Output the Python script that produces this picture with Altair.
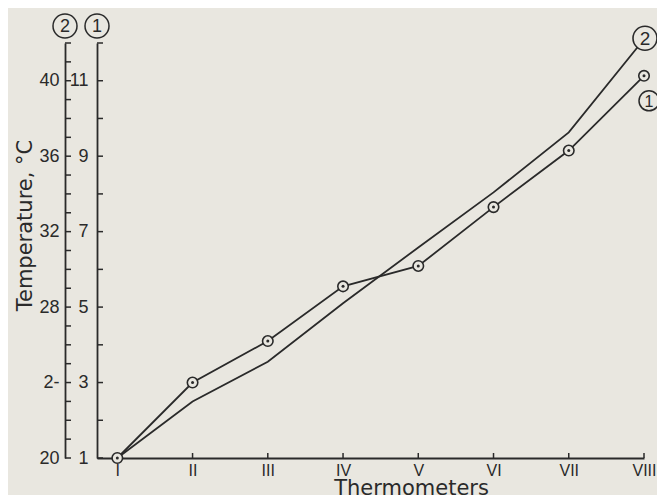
import altair as alt
import pandas as pd

# ---- data ----
thermometers = ["I", "II", "III", "IV", "V", "VI", "VII", "VIII"]
series1 = [1.0, 3.0, 4.1, 5.55, 6.09, 7.65, 9.15, 11.13]   # curve 1 (circles), axis 1 units
series2 = [1.0, 2.5, 3.55, 5.1, 6.58, 8.04, 9.63, 12.1]    # curve 2, axis 1 units
series_labels = ["1", "2"]
axis1_ticks = list(range(1, 13))
axis1_labels = [1, 3, 5, 7, 9, 11]
axis2_ticks = list(range(20, 43))
axis2_labels = [20, 24, 28, 32, 36, 40]
axis2_label_text = ["20", "2-", "28", "32", "36", "40"]

BG = "#e9e7e0"
INK = "#2a2a2a"
W, H = 547, 415
LABEL_FONT = "Liberation Sans"
TITLE_FONT = "DejaVu Sans"

idx = list(range(len(thermometers)))
df = pd.DataFrame({"idx": idx, "name": thermometers, "s1": series1, "s2": series2})
t1 = pd.DataFrame({"v": axis1_ticks})
t2 = pd.DataFrame({"v": axis2_ticks})
one = pd.DataFrame({"label": series_labels})

x_scale = alt.Scale(domain=[-0.27, 7.0], nice=False, zero=False)
y1_scale = alt.Scale(domain=[1, 12], nice=False, zero=False)
y2_scale = alt.Scale(domain=[20, 42], nice=False, zero=False)

roman_expr = "[" + ",".join(f"'{t}'" for t in thermometers) + "][datum.value]"
x_axis = alt.Axis(
    values=idx, labelExpr=roman_expr, ticks=False, grid=False, domain=True,
    domainColor=INK, domainWidth=1.8, labelFont=LABEL_FONT, labelFontSize=16,
    labelPadding=4, labelColor=INK, labelFlush=False, labelOverlap=False,
    title="Thermometers", titleFont=TITLE_FONT, titleFontSize=21,
    titleFontWeight="normal", titleColor=INK, titleX=314, titleY=36,
    titleBaseline="alphabetic", titleAlign="center",
)
x_enc = alt.X("idx:Q", scale=x_scale, axis=x_axis)

lab2_expr = ("[" + ",".join(f"'{t}'" for t in axis2_label_text) + "][indexof(["
             + ",".join(str(v) for v in axis2_labels) + "], datum.value)]")

axis1 = alt.Axis(
    values=axis1_labels, orient="left", ticks=False, grid=False, domain=True,
    domainColor=INK, domainWidth=1.8, labelFont=LABEL_FONT, labelFontSize=18,
    labelColor=INK, labelPadding=9, labelFlush=False, labelOverlap=False, title=None,
)
axis2 = alt.Axis(
    values=axis2_labels, labelExpr=lab2_expr, orient="left", offset=32,
    ticks=False, grid=False, domain=True, domainColor=INK, domainWidth=1.8,
    labelFont=LABEL_FONT, labelFontSize=18, labelColor=INK, labelPadding=6,
    labelFlush=False, labelOverlap=False,
    title="Temperature, °C", titleFont=TITLE_FONT, titleFontSize=21,
    titleFontWeight="normal", titleColor=INK, titleAngle=270,
    titleX=-40, titleY=182, titleAlign="center", titleBaseline="middle",
)

line2 = alt.Chart(df).mark_line(color=INK, strokeWidth=1.8).encode(
    x=x_enc, y=alt.Y("s2:Q", scale=y1_scale, axis=None))
line1 = alt.Chart(df).mark_line(color=INK, strokeWidth=1.8).encode(
    x=x_enc, y=alt.Y("s1:Q", scale=y1_scale, axis=None))
marks1 = alt.Chart(df).mark_point(shape="circle", size=110, filled=True, fill=BG,
                                  stroke=INK, strokeWidth=1.6, opacity=1).encode(
    x=x_enc, y=alt.Y("s1:Q", scale=y1_scale, axis=None))
dots1 = alt.Chart(df).mark_point(shape="circle", size=9, filled=True, color=INK, opacity=1).encode(
    x=x_enc, y=alt.Y("s1:Q", scale=y1_scale, axis=None))

xticks = alt.Chart(df).mark_rule(color=INK, strokeWidth=1.5).encode(
    x=x_enc, y=alt.value(H), y2=alt.value(H - 5))
y1ticks = alt.Chart(t1).mark_rule(color=INK, strokeWidth=1.5).encode(
    y=alt.Y("v:Q", scale=y1_scale, axis=axis1), x=alt.value(0), x2=alt.value(6))
y2ticks = alt.Chart(t2).mark_rule(color=INK, strokeWidth=1.5).encode(
    y=alt.Y("v:Q", scale=y2_scale, axis=axis2), x=alt.value(-32), x2=alt.value(-26))

last = f"datum.idx == {len(thermometers) - 1}"
end2_c = alt.Chart(df).transform_filter(last).mark_point(
    shape="circle", size=576, filled=True, fill=BG, stroke=INK, strokeWidth=1.6,
    opacity=1, xOffset=1, yOffset=-1).encode(
    x=x_enc, y=alt.Y("s2:Q", scale=y1_scale, axis=None))
end2_t = alt.Chart(df).transform_filter(last).mark_text(
    font=LABEL_FONT, fontSize=19, color=INK, dx=1, dy=0, baseline="middle", align="center").encode(
    x=x_enc, y=alt.Y("s2:Q", scale=y1_scale, axis=None), text=alt.value(series_labels[1]))
end1_c = alt.Chart(df).transform_filter(last).mark_point(
    shape="circle", size=400, filled=True, fill=BG, stroke=INK, strokeWidth=1.5,
    opacity=1, xOffset=5, yOffset=25).encode(
    x=x_enc, y=alt.Y("s1:Q", scale=y1_scale, axis=None))
end1_t = alt.Chart(df).transform_filter(last).mark_text(
    font=LABEL_FONT, fontSize=16, color=INK, dx=5, dy=26, baseline="middle", align="center").encode(
    x=x_enc, y=alt.Y("s1:Q", scale=y1_scale, axis=None), text=alt.value(series_labels[0]))

top_layers = []
for lab, px in ((series_labels[1], -32), (series_labels[0], 0)):
    d = one[one["label"] == lab]
    top_layers.append(alt.Chart(d).mark_point(
        shape="circle", size=576, filled=True, fill=BG, stroke=INK, strokeWidth=1.5, opacity=1
    ).encode(x=alt.value(px), y=alt.value(-17)))
    top_layers.append(alt.Chart(d).mark_text(
        font=LABEL_FONT, fontSize=18, color=INK, baseline="middle", align="center"
    ).encode(x=alt.value(px), y=alt.value(-16), text="label:N"))

chart = alt.layer(
    y1ticks, y2ticks, xticks, line2, line1, marks1, dots1,
    end2_c, end2_t, end1_c, end1_t, *top_layers,
).resolve_scale(y="independent").properties(
    width=W, height=H,
    autosize=alt.AutoSizeParams(type="none"),
    padding={"left": 89, "top": 35, "right": 13, "bottom": 37},
    background=BG,
).configure_view(stroke=None)

chart.save("out.html", embed_options={"renderer": "svg", "actions": False})
